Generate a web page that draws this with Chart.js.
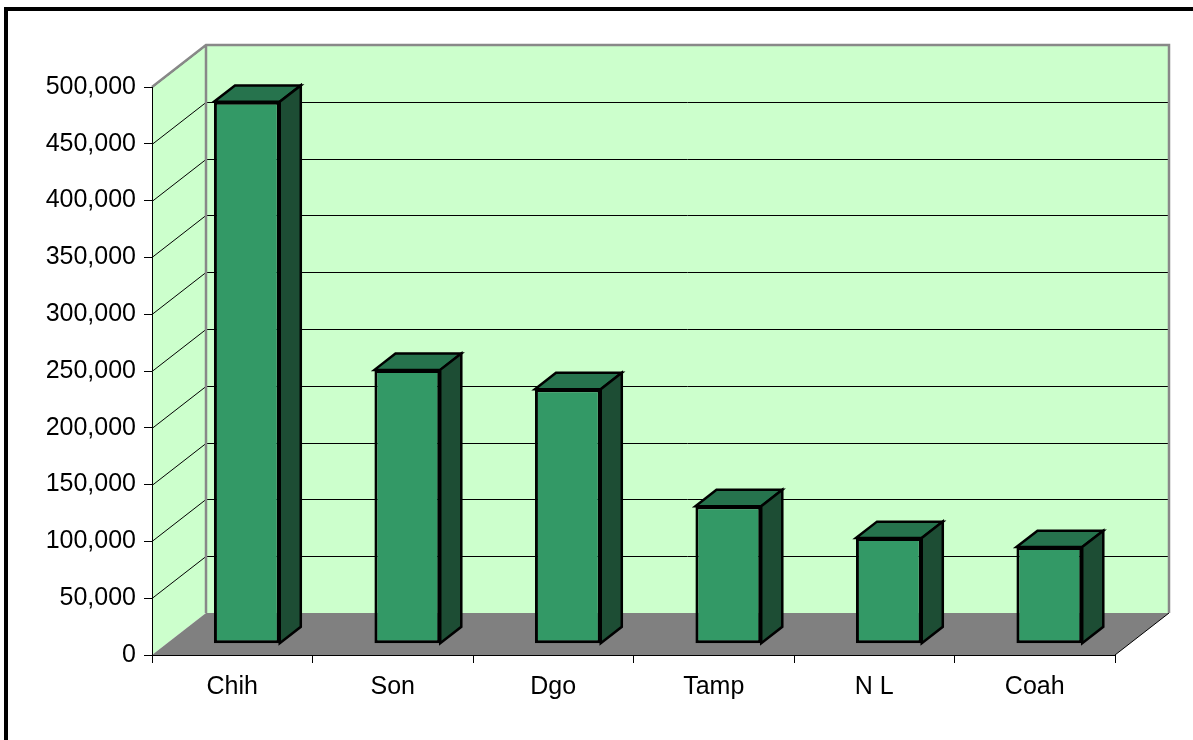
<!DOCTYPE html>
<html>
<head>
<meta charset="utf-8">
<title>3D column chart</title>
<script src="https://cdn.jsdelivr.net/npm/chart.js@4.4.0/dist/chart.umd.min.js"></script>
<style>
    html, body { margin: 0; padding: 0; background: #fff; }
    #chart { display: block; }
</style>
</head>
<body>
<canvas id="chart" width="1193" height="740"></canvas>
<script>
// Data
const categories = ['Chih', 'Son', 'Dgo', 'Tamp', 'N L', 'Coah'];
const values = [477000, 241000, 224000, 121000, 93000, 85000];
const yMin = 0;
const yMax = 500000;
const yStep = 50000;

// 3D look
const wallDepth = { dx: 54, dy: -42 };   // back wall offset from the axis plane
const barFront = 0.27;                     // where the bar front sits in the depth
const barDepth = 0.39;                     // how deep the bar is
const wallColor = '#CCFFCC';
const floorColor = '#808080';
const frontColor = '#339966';
const topColor = '#26734D';
const sideColor = '#1D4D34';

const threeD = {
    id: 'threeD',
    beforeDraw(chart) {
        const { ctx, chartArea: a, scales: { y } } = chart;
        const dx = wallDepth.dx, dy = wallDepth.dy;
        ctx.save();

        // outer frame
        ctx.strokeStyle = '#000';
        ctx.lineWidth = 4;
        ctx.strokeRect(6, 9, 1200, 800);

        // left wall
        ctx.fillStyle = wallColor;
        ctx.beginPath();
        ctx.moveTo(a.left, a.bottom);
        ctx.lineTo(a.left, a.top);
        ctx.lineTo(a.left + dx, a.top + dy);
        ctx.lineTo(a.left + dx, a.bottom + dy);
        ctx.closePath();
        ctx.fill();

        // back wall
        ctx.fillRect(a.left + dx, a.top + dy, a.right - a.left, a.bottom - a.top);

        // floor
        ctx.fillStyle = floorColor;
        ctx.beginPath();
        ctx.moveTo(a.left, a.bottom);
        ctx.lineTo(a.right, a.bottom);
        ctx.lineTo(a.right + dx, a.bottom + dy);
        ctx.lineTo(a.left + dx, a.bottom + dy);
        ctx.closePath();
        ctx.fill();

        // gridlines on left and back walls
        ctx.strokeStyle = '#000';
        ctx.lineWidth = 1;
        y.ticks.forEach(t => {
            if (t.value === yMin) return;
            const py = Math.round(y.getPixelForValue(t.value)) + 0.5;
            ctx.beginPath();
            ctx.moveTo(a.left, py);
            ctx.lineTo(a.left + dx, py + dy);
            ctx.lineTo(a.right + dx, py + dy);
            ctx.stroke();
        });

        // right floor edge
        ctx.beginPath();
        ctx.moveTo(a.right, a.bottom);
        ctx.lineTo(a.right + dx, a.bottom + dy);
        ctx.stroke();

        // wall outlines
        ctx.strokeStyle = '#888';
        ctx.lineWidth = 2.5;
        ctx.beginPath();
        ctx.moveTo(a.left, a.top);
        ctx.lineTo(a.left + dx, a.top + dy);
        ctx.lineTo(a.right + dx, a.top + dy);
        ctx.lineTo(a.right + dx, a.bottom + dy);
        ctx.moveTo(a.left + dx, a.top + dy);
        ctx.lineTo(a.left + dx, a.bottom + dy);
        ctx.stroke();
        ctx.restore();
    },
    beforeDatasetsDraw(chart) {
        const { ctx } = chart;
        const ox = wallDepth.dx * barFront, oy = wallDepth.dy * barFront;
        const ddx = wallDepth.dx * barDepth, ddy = wallDepth.dy * barDepth;
        ctx.save();
        ctx.strokeStyle = '#000';
        ctx.lineWidth = 2.5;
        ctx.lineJoin = 'miter';
        chart.getDatasetMeta(0).data.forEach(bar => {
            const p = bar.getProps(['x', 'y', 'base', 'width'], true);
            const l = p.x - p.width / 2 + ox, r = p.x + p.width / 2 + ox;
            const t = p.y + oy, b = p.base + oy;
            // top face
            ctx.fillStyle = topColor;
            ctx.beginPath();
            ctx.moveTo(l, t);
            ctx.lineTo(l + ddx, t + ddy);
            ctx.lineTo(r + ddx, t + ddy);
            ctx.lineTo(r, t);
            ctx.closePath();
            ctx.fill();
            ctx.stroke();
            // side face
            ctx.fillStyle = sideColor;
            ctx.beginPath();
            ctx.moveTo(r, t);
            ctx.lineTo(r + ddx, t + ddy);
            ctx.lineTo(r + ddx, b + ddy);
            ctx.lineTo(r, b);
            ctx.closePath();
            ctx.fill();
            ctx.stroke();
        });
        ctx.restore();
    },
    // shift the front faces back into the box
    beforeDatasetDraw(chart) {
        chart.ctx.save();
        chart.ctx.translate(wallDepth.dx * barFront, wallDepth.dy * barFront);
    },
    afterDatasetDraw(chart) {
        chart.ctx.restore();
    }
};

const font = { family: '"Liberation Sans", Arial, sans-serif', size: 25 };

new Chart(document.getElementById('chart'), {
    type: 'bar',
    data: {
        labels: categories,
        datasets: [{
            data: values,
            backgroundColor: frontColor,
            borderColor: '#000',
            borderWidth: 3,
            borderSkipped: false,
            barPercentage: 0.41,
            categoryPercentage: 1
        }]
    },
    options: {
        responsive: false,
        animation: false,
        layout: {
            padding: { top: 87, right: 78, bottom: 0, left: 0 }
        },
        plugins: {
            legend: { display: false },
            tooltip: { enabled: false }
        },
        scales: {
            x: {
                offset: true,
                grid: {
                    offset: true,
                    drawOnChartArea: false,
                    tickLength: 8,
                    color: '#000'
                },
                border: { color: '#000', width: 1 },
                ticks: { font: font, color: '#000', padding: 9 },
                afterFit(s) { s.height = 85; }
            },
            y: {
                min: yMin,
                max: yMax,
                grid: {
                    drawOnChartArea: false,
                    tickLength: 8,
                    color: '#000'
                },
                border: { color: '#000', width: 1 },
                ticks: {
                    stepSize: yStep,
                    font: font,
                    color: '#000',
                    padding: 8,
                    callback: v => v.toLocaleString('en-US')
                },
                afterFit(s) { s.width = 152; }
            }
        }
    },
    plugins: [threeD]
});
</script>
</body>
</html>
